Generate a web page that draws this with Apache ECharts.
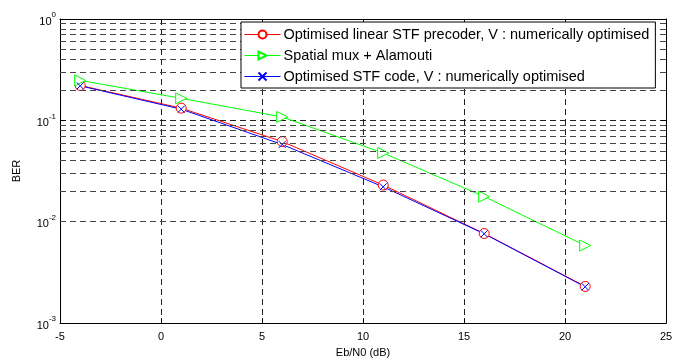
<!DOCTYPE html>
<html>
<head>
<meta charset="utf-8">
<script src="https://cdn.jsdelivr.net/npm/echarts@6/dist/echarts.min.js"></script>
<style>
  html, body { margin: 0; padding: 0; background: #fff; }
  #chart { width: 685px; height: 363px; }
</style>
</head>
<body>
<div id="chart"></div>
<script>
const ebn0 = [-4, 1, 6, 11, 16, 21];
const linearPrecoder = [0.221, 0.132, 0.0618, 0.0230, 0.00765, 0.00230];
const spatialMux = [0.248, 0.165, 0.108, 0.0476, 0.0177, 0.00582];
const stfCode = [0.219, 0.129, 0.0578, 0.0221, 0.00760, 0.00228];
const minorGrid = [
  0.002, 0.003, 0.004, 0.005, 0.006, 0.007, 0.008, 0.009,
  0.02, 0.03, 0.04, 0.05, 0.06, 0.07, 0.08, 0.09,
  0.2, 0.3, 0.4, 0.5, 0.6, 0.7, 0.8, 0.9
];

const FONT = "Liberation Sans";
const gridLine = { color: "#222", width: 1, type: [6, 4] };

const chart = echarts.init(document.getElementById("chart"), null, { renderer: "canvas" });

function lineSeries(name, data, color, symbol, extra) {
  return Object.assign({
    type: "line",
    name: name,
    data: ebn0.map((x, i) => [x, data[i]]),
    symbol: symbol,
    symbolSize: 10,
    showSymbol: true,
    z: 3,
    lineStyle: { color: color, width: 1 },
    itemStyle: { color: "#fff", borderColor: color, borderWidth: 1 },
    emphasis: { disabled: true },
    animation: false
  }, extra || {});
}

const frameAxis = {
  axisLine: { show: true, onZero: false, lineStyle: { color: "#000", width: 1 } },
  axisTick: { show: true, inside: true, length: 5, lineStyle: { color: "#000" } }
};

chart.setOption({
  animation: false,
  textStyle: { fontFamily: FONT },
  grid: { left: 60, right: 19, top: 19, bottom: 37 },
  legend: {
    orient: "vertical",
    left: 241,
    top: 22,
    z: 50,
    backgroundColor: "#fff",
    borderColor: "#000",
    borderWidth: 1,
    borderRadius: 0,
    padding: [5, 6, 4, 3],
    itemGap: 6,
    itemWidth: 36,
    itemHeight: 10,
    lineStyle: { width: 1 },
    textStyle: { fontFamily: FONT, fontSize: 14.5, color: "#000", padding: [0, 0, 0, -2] },
    data: [
      "Optimised linear STF precoder, V : numerically optimised",
      "Spatial mux + Alamouti",
      "Optimised STF code, V : numerically optimised"
    ]
  },
  xAxis: [
    Object.assign({
      type: "value",
      min: -5,
      max: 25,
      interval: 5,
      name: "Eb/N0 (dB)",
      nameLocation: "middle",
      nameGap: 23,
      nameTextStyle: { fontFamily: FONT, fontSize: 11, color: "#000" },
      axisLabel: { fontFamily: FONT, fontSize: 11, color: "#000", margin: 8 },
      splitLine: { show: true, lineStyle: gridLine }
    }, frameAxis),
    Object.assign({
      type: "value",
      position: "top",
      min: -5,
      max: 25,
      interval: 5,
      axisLabel: { show: false },
      splitLine: { show: false }
    }, frameAxis)
  ],
  yAxis: [
    Object.assign({
      type: "log",
      logBase: 10,
      min: 0.001,
      max: 1,
      name: "BER",
      nameLocation: "middle",
      nameGap: 38,
      nameRotate: 90,
      nameTextStyle: { fontFamily: FONT, fontSize: 11, color: "#000" },
      axisLabel: {
        margin: 4,
        formatter: function (v) {
          const e = Math.round(Math.log10(v));
          return "{b|10}{s|" + e + "}";
        },
        rich: {
          b: { fontFamily: FONT, fontSize: 11, color: "#000", verticalAlign: "bottom" },
          s: { fontFamily: FONT, fontSize: 8, color: "#000", verticalAlign: "top", padding: [0, 0, 8, 0] }
        }
      },
      splitLine: { show: true, lineStyle: gridLine }
    }, frameAxis),
    Object.assign({
      type: "log",
      logBase: 10,
      min: 0.001,
      max: 1,
      position: "right",
      axisLabel: { show: false },
      splitLine: { show: false }
    }, frameAxis)
  ],
  series: [
    {
      type: "line",
      name: "minor grid",
      data: [],
      silent: true,
      z: 1,
      markLine: {
        silent: true,
        symbol: ["none", "none"],
        label: { show: false },
        lineStyle: { color: "#444", width: 1, type: [6, 4] },
        animation: false,
        data: minorGrid.map((v) => ({ yAxis: v }))
      }
    },
    lineSeries("Optimised linear STF precoder, V : numerically optimised", linearPrecoder, "#ff0000", "circle"),
    lineSeries("Spatial mux + Alamouti", spatialMux, "#00ff00", "triangle", { symbolRotate: -90, symbolSize: 11 }),
    lineSeries("Optimised STF code, V : numerically optimised", stfCode, "#0000ff",
      "path://M0,0L10,10M10,0L0,10", { symbolSize: 7, itemStyle: { color: "none", borderColor: "#0000ff", borderWidth: 1 } })
  ]
});
</script>
</body>
</html>
